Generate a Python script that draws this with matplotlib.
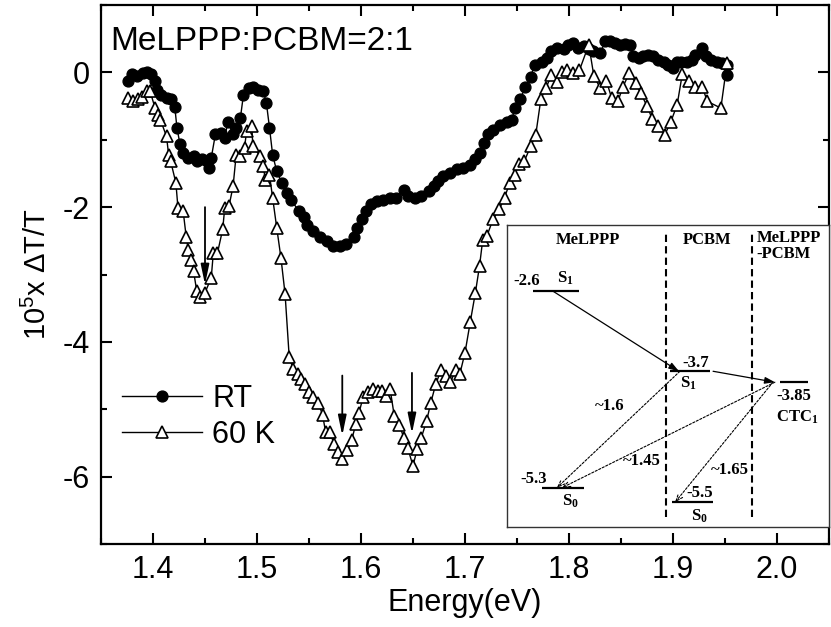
import matplotlib
matplotlib.use('Agg')
import matplotlib.pyplot as plt
from matplotlib.ticker import MultipleLocator

plt.rcParams['font.family'] = 'Liberation Sans'
plt.rcParams['axes.unicode_minus'] = False
plt.rcParams['mathtext.fontset'] = 'custom'
plt.rcParams['mathtext.rm'] = 'Liberation Sans'
plt.rcParams['mathtext.bf'] = 'Liberation Serif:bold'

# RT spectrum (filled circles)
rt_energy = [1.376, 1.380, 1.385, 1.390, 1.394, 1.398, 1.402, 1.404, 1.408, 1.413,
             1.417, 1.421, 1.423, 1.426, 1.429, 1.434, 1.439, 1.442, 1.447, 1.452,
             1.454, 1.456, 1.460, 1.465, 1.469, 1.472, 1.477, 1.480, 1.484, 1.487,
             1.492, 1.496, 1.501, 1.506, 1.509, 1.512, 1.515, 1.519, 1.524, 1.529,
             1.533, 1.540, 1.545, 1.548, 1.554, 1.561, 1.567, 1.573, 1.580, 1.586,
             1.593, 1.596, 1.601, 1.605, 1.610, 1.615, 1.621, 1.628, 1.634, 1.641,
             1.645, 1.652, 1.658, 1.665, 1.670, 1.674, 1.679, 1.686, 1.692, 1.698,
             1.705, 1.710, 1.714, 1.718, 1.722, 1.727, 1.734, 1.740, 1.745, 1.748,
             1.753, 1.758, 1.763, 1.767, 1.774, 1.779, 1.783, 1.788, 1.795, 1.799,
             1.804, 1.809, 1.814, 1.819, 1.823, 1.830, 1.835, 1.839, 1.844, 1.849,
             1.854, 1.859, 1.862, 1.867, 1.871, 1.876, 1.881, 1.886, 1.891, 1.895,
             1.900, 1.904, 1.908, 1.913, 1.918, 1.921, 1.928, 1.932, 1.937, 1.942,
             1.947, 1.952, 1.952]
rt_signal = [-0.13, -0.03, -0.06, -0.01, 0.01, -0.03, -0.13, -0.26, -0.33, -0.38,
             -0.40, -0.52, -0.82, -1.07, -1.20, -1.27, -1.24, -1.32, -1.29, -1.32,
             -1.42, -1.27, -0.92, -0.90, -0.97, -0.73, -0.92, -0.82, -0.68, -0.33,
             -0.23, -0.21, -0.26, -0.28, -0.45, -0.82, -1.22, -1.47, -1.64, -1.79,
             -1.89, -2.06, -2.15, -2.26, -2.36, -2.45, -2.50, -2.58, -2.58, -2.54,
             -2.45, -2.31, -2.18, -2.06, -1.96, -1.91, -1.89, -1.86, -1.86, -1.74,
             -1.84, -1.86, -1.84, -1.76, -1.69, -1.61, -1.54, -1.49, -1.44, -1.42,
             -1.37, -1.29, -1.20, -1.05, -0.92, -0.85, -0.78, -0.73, -0.70, -0.53,
             -0.40, -0.22, -0.07, 0.11, 0.16, 0.21, 0.31, 0.36, 0.34, 0.41,
             0.44, 0.36, 0.39, 0.34, 0.31, 0.29, 0.46, 0.46, 0.44, 0.41,
             0.42, 0.41, 0.24, 0.21, 0.24, 0.26, 0.24, 0.19, 0.16, 0.11,
             0.06, 0.16, 0.16, 0.16, 0.19, 0.26, 0.36, 0.24, 0.19, 0.16,
             0.14, 0.11, -0.04]

# 60 K spectrum (open triangles)
k60_energy = [1.376, 1.381, 1.386, 1.389, 1.394, 1.397, 1.402, 1.405, 1.407, 1.413,
              1.415, 1.417, 1.422, 1.424, 1.429, 1.432, 1.434, 1.437, 1.439, 1.442,
              1.445, 1.450, 1.456, 1.458, 1.462, 1.467, 1.469, 1.473, 1.477, 1.480,
              1.484, 1.488, 1.490, 1.495, 1.496, 1.503, 1.506, 1.508, 1.512, 1.515,
              1.519, 1.523, 1.527, 1.531, 1.535, 1.539, 1.542, 1.546, 1.550, 1.554,
              1.559, 1.563, 1.566, 1.570, 1.574, 1.578, 1.582, 1.587, 1.591, 1.595,
              1.598, 1.602, 1.607, 1.612, 1.616, 1.620, 1.624, 1.628, 1.632, 1.637,
              1.641, 1.645, 1.650, 1.654, 1.658, 1.663, 1.667, 1.672, 1.677, 1.682,
              1.686, 1.691, 1.695, 1.700, 1.705, 1.710, 1.714, 1.717, 1.721, 1.727,
              1.733, 1.738, 1.743, 1.748, 1.752, 1.757, 1.763, 1.768, 1.773, 1.778,
              1.783, 1.788, 1.793, 1.798, 1.804, 1.810, 1.819, 1.824, 1.830, 1.836,
              1.841, 1.847, 1.852, 1.858, 1.864, 1.869, 1.875, 1.880, 1.886, 1.892,
              1.898, 1.904, 1.909, 1.915, 1.921, 1.928, 1.933, 1.946, 1.952]
k60_signal = [-0.38, -0.43, -0.40, -0.36, -0.28, -0.27, -0.53, -0.63, -0.70, -0.95,
              -1.22, -1.32, -1.64, -2.01, -2.06, -2.45, -2.63, -2.78, -2.95, -3.24,
              -3.34, -3.27, -3.05, -2.68, -2.68, -2.33, -2.01, -1.99, -1.69, -1.22,
              -1.24, -1.12, -0.87, -0.80, -1.10, -1.24, -1.39, -1.59, -1.52, -1.86,
              -2.31, -2.75, -3.29, -4.23, -4.41, -4.48, -4.55, -4.63, -4.75, -4.82,
              -4.91, -5.08, -5.34, -5.34, -5.51, -5.64, -5.74, -5.61, -5.46, -5.22,
              -5.06, -4.82, -4.75, -4.70, -4.73, -4.73, -4.81, -4.70, -5.10, -5.23,
              -5.42, -5.58, -5.84, -5.59, -5.42, -5.18, -4.91, -4.62, -4.42, -4.50,
              -4.60, -4.42, -4.48, -4.16, -3.71, -3.27, -2.87, -2.49, -2.43, -2.18,
              -2.03, -1.86, -1.64, -1.52, -1.36, -1.32, -1.10, -0.93, -0.39, -0.23,
              -0.04, -0.14, 0.00, 0.03, -0.01, 0.03, 0.41, -0.06, -0.23, -0.13,
              -0.38, -0.43, -0.21, -0.01, -0.16, -0.31, -0.50, -0.69, -0.80, -0.93,
              -0.73, -0.48, -0.02, -0.13, -0.21, -0.21, -0.43, -0.53, 0.14]

# peak markers (vertical arrows)
arrow_energy = [1.45, 1.582, 1.649]
arrow_top = [-2.0, -4.5, -4.46]
arrow_bottom = [-3.15, -5.39, -5.36]

# energy level diagram (eV)
lvl_melppp_s1 = -2.6
lvl_pcbm_s1 = -3.7
lvl_ctc1 = -3.85
lvl_melppp_s0 = -5.3
lvl_pcbm_s0 = -5.5

fig = plt.figure(figsize=(8.31, 6.27), dpi=100)
ax = fig.add_axes([101 / 831, 83 / 627, 728 / 831, 539 / 627])

ax.plot(rt_energy, rt_signal, '-o', color='black', ms=7.8, lw=1, label='RT')
ax.plot(k60_energy, k60_signal, '-^', color='black', mfc='white', mec='black',
        ms=8.5, mew=1.2, lw=1, label='60 K')

for e, top, bot in zip(arrow_energy, arrow_top, arrow_bottom):
    ax.annotate('', xy=(e, bot), xytext=(e, top),
                arrowprops=dict(arrowstyle='-|>,head_length=1.2,head_width=0.25',
                                color='black', lw=1.3, shrinkA=0, shrinkB=0))

ax.set_xlim(1.35, 2.05)
ax.set_ylim(-7, 1)
ax.xaxis.set_major_locator(MultipleLocator(0.1))
ax.xaxis.set_minor_locator(MultipleLocator(0.05))
ax.yaxis.set_major_locator(MultipleLocator(2))
ax.yaxis.set_minor_locator(MultipleLocator(1))
ax.set_xticks([1.4, 1.5, 1.6, 1.7, 1.8, 1.9, 2.0])
ax.set_xticklabels(['1.4', '1.5', '1.6', '1.7', '1.8', '1.9', '2.0'])
ax.tick_params(which='both', direction='in', top=True, right=True, width=1.5,
               labelsize=22)
ax.tick_params(which='major', length=8, pad=8)
ax.tick_params(which='minor', length=4.5)
for s in ax.spines.values():
    s.set_linewidth(1.6)

ax.set_xlabel('Energy(eV)', fontsize=22, labelpad=2)
ax.set_ylabel(r'10$^{\mathrm{5}}$x ΔT/T', fontsize=21, labelpad=8)

ax.text(0.013, 0.9165, 'MeLPPP:PCBM=2:1', transform=ax.transAxes,
        fontsize=24, va='baseline', ha='left')

ax.legend(loc='lower left', bbox_to_anchor=(0.029, 0.175), frameon=False,
          fontsize=22, handlelength=2.6, handletextpad=0.35, labelspacing=0.2,
          borderpad=0, borderaxespad=0, numpoints=1)

# inset: energy level scheme
iax = fig.add_axes([507 / 831, 100 / 627, 322 / 831, 302 / 627], zorder=5)
iax.set_xlim(0, 1)
iax.set_ylim(-5.84, -1.69)
iax.set_xticks([])
iax.set_yticks([])
for s in iax.spines.values():
    s.set_linewidth(1.0)
    s.set_color('#333333')

bold = dict(family='Liberation Serif', fontweight='bold', fontsize=12)

for xd in (0.494, 0.761):
    iax.axvline(xd, ymin=0.033, ymax=0.977, color='black', lw=1.5, ls=(0, (3.5, 2)))

iax.hlines(lvl_melppp_s1, 0.081, 0.224, color='black', lw=1.6)
iax.hlines(lvl_pcbm_s1, 0.506, 0.630, color='black', lw=1.6)
iax.hlines(lvl_ctc1, 0.848, 0.935, color='black', lw=1.6)
iax.hlines(lvl_melppp_s0, 0.109, 0.239, color='black', lw=1.6)
iax.hlines(lvl_pcbm_s0, 0.512, 0.640, color='black', lw=1.6)

iax.text(0.252, 0.95, 'MeLPPP', transform=iax.transAxes, ha='center', va='center', **bold)
iax.text(0.621, 0.95, 'PCBM', transform=iax.transAxes, ha='center', va='center', **bold)
iax.text(0.775, 0.985, 'MeLPPP\n-PCBM', transform=iax.transAxes, ha='left', va='top',
         linespacing=1.0, **bold)


def label(x, y, s, dy):
    iax.annotate(s, (x, y), xytext=(0, dy), textcoords='offset points',
                 ha='center', va='center', **bold)


label(0.062, lvl_melppp_s1, '-2.6', 7)
label(0.180, lvl_melppp_s1, r'$\mathbf{S_1}$', 9)
label(0.587, lvl_pcbm_s1, '-3.7', 6)
label(0.562, lvl_pcbm_s1, r'$\mathbf{S_1}$', -9)
label(0.891, lvl_ctc1, '-3.85', -10)
label(0.901, lvl_ctc1, r'$\mathbf{CTC_1}$', -25)
label(0.084, lvl_melppp_s0, '-5.3', 6)
label(0.196, lvl_melppp_s0, r'$\mathbf{S_0}$', -10)
label(0.599, lvl_pcbm_s0, '-5.5', 7)
label(0.599, lvl_pcbm_s0, r'$\mathbf{S_0}$', -10)

solid = dict(arrowstyle='-|>,head_length=0.6,head_width=0.2', color='black',
             lw=0.9, shrinkA=0, shrinkB=0)
dashed = dict(arrowstyle='->,head_length=0.5,head_width=0.2', color='black',
              lw=0.8, ls=(0, (2, 1.5)), shrinkA=0, shrinkB=0)
iax.annotate('', xy=(0.534, lvl_pcbm_s1), xytext=(0.143, lvl_melppp_s1), arrowprops=solid)
iax.annotate('', xy=(0.832, lvl_ctc1), xytext=(0.640, lvl_pcbm_s1), arrowprops=solid)
iax.annotate('', xy=(0.155, lvl_melppp_s0), xytext=(0.537, lvl_pcbm_s1), arrowprops=dashed)
iax.annotate('', xy=(0.171, lvl_melppp_s0), xytext=(0.832, lvl_ctc1), arrowprops=dashed)
iax.annotate('', xy=(0.522, lvl_pcbm_s0), xytext=(0.826, lvl_ctc1), arrowprops=dashed)

iax.text(0.320, 0.40, '~1.6', transform=iax.transAxes, ha='center', va='center', **bold)
iax.text(0.419, 0.22, '~1.45', transform=iax.transAxes, ha='center', va='center', **bold)
iax.text(0.693, 0.19, '~1.65', transform=iax.transAxes, ha='center', va='center', **bold)

fig.savefig('out.png', dpi=100)
